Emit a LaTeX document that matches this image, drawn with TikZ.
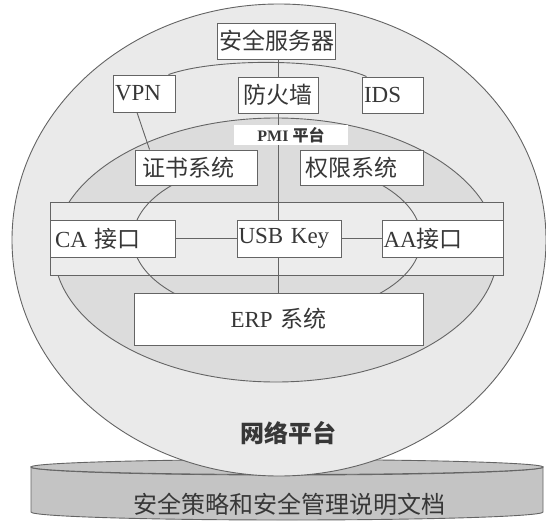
\documentclass[tikz,border=0pt]{standalone}
\usepackage{fontspec}
\setmainfont{Liberation Serif}
\newfontfamily\cjk{Noto Sans CJK SC}
\definecolor{linec}{RGB}{100,100,100}
\definecolor{txtc}{RGB}{55,55,55}
\definecolor{outerfill}{RGB}{234,234,234}
\definecolor{midfill}{RGB}{220,220,220}
\definecolor{bigfill}{RGB}{236,236,236}
\definecolor{diskfill}{RGB}{196,196,196}
\pgfdeclarelayer{back}
\pgfdeclarelayer{links}
\pgfsetlayers{back,links,main}
\tikzset{
  lc/.style={draw=linec, line width=0.9pt},
  bx/.style={lc, fill=white, inner ysep=0pt, text=txtc, font=\fontsize{23}{25}\selectfont},
}
\begin{document}
\begin{tikzpicture}[x=1pt,y=-1pt]
\useasboundingbox (0,0) rectangle (546,522);
\begin{pgfonlayer}{back}
% base disk
\path[lc, fill=diskfill] (31,467) -- (31,512) arc[start angle=180, end angle=0, x radius=256, y radius=8] -- (543,467) arc[start angle=0, end angle=180, x radius=256, y radius=8] -- cycle;
\draw[lc, fill=diskfill] (287,467) ellipse [x radius=256, y radius=7.5];
% outer ellipse
\draw[lc, fill=outerfill] (279,240) ellipse [x radius=267, y radius=236];
% middle ellipse (PMI)
\draw[lc, fill=midfill] (276,250) ellipse [x radius=222, y radius=132];
% big box
\node[lc, fill=bigfill, minimum width=453, minimum height=73, inner sep=0pt] (big) at (276.5,238.5) {};
\end{pgfonlayer}
\node[text=txtc, font=\fontsize{24}{26}\selectfont\cjk] (doc) at (289,504) {安全策略和安全管理说明文档};
% boxes
\node[bx, text width=114, inner xsep=2pt, align=center, minimum height=36] (srv) at (276,41) {\cjk 安全服务器};
\node[bx, text width=58, inner xsep=2pt, align=left, minimum height=37] (vpn) at (144,93.5) {VPN};
\node[bx, text width=76, inner xsep=2pt, align=center, minimum height=36] (fw) at (278,95) {\cjk 防火墙};
\node[bx, text width=57, inner xsep=2pt, align=left, minimum height=36] (ids) at (392.5,95) {IDS};
\node[bx, text width=108, inner xsep=7pt, align=left, minimum height=35] (cert) at (196,167.5) {\cjk 证书系统};
\node[bx, text width=113, inner xsep=5pt, align=left, minimum height=35] (auth) at (361.5,167.5) {\cjk 权限系统};
\node[bx, text width=115, inner xsep=5pt, align=left, minimum height=37] (ca) at (112.5,238.5) {CA {\cjk 接口}};
\node[bx, text width=101, inner xsep=1.5pt, align=left, minimum height=37] (usb) at (289,238.5) {USB Key};
\node[bx, text width=118, inner xsep=1.5pt, align=left, minimum height=37] (aa) at (442.5,238.5) {AA{\cjk 接口}};
\node[bx, text width=285, inner xsep=2pt, align=center, minimum height=52] (erp) at (278.5,319) {ERP {\cjk 系统}};
% PMI label
\node[fill=white, minimum width=114, minimum height=20, inner sep=0pt, text=txtc, font=\fontsize{16}{17}\selectfont\bfseries] (pmi) at (291,135) {PMI {\cjk 平台}};
% network label
\node[text=txtc, font=\fontsize{24}{26}\selectfont\cjk\bfseries] (net) at (288,433) {网络平台};
% connectors (behind boxes)
\begin{pgfonlayer}{links}
\draw[lc] ([xshift=-7pt]vpn.north east) .. controls (215,58) and (325,58) .. ([xshift=5pt]ids.north west);
\draw[lc] (fw.north |- srv.south) -- (fw.north);
\draw[lc] (fw.south) -- (fw.south |- usb.north);
\draw[lc] (erp.north |- usb.south) -- (erp.north);
\draw[lc] (ca.east) -- (usb.west);
\draw[lc] (usb.east) -- (aa.west);
\draw[lc] ([xshift=-7pt]vpn.south) -- ([xshift=15pt]cert.north west);
\draw[lc] ([xshift=37pt]cert.south west) arc[start angle=223, end angle=135, x radius=144, y radius=78];
\draw[lc] ([xshift=83pt]auth.south west) arc[start angle=-43, end angle=45, x radius=144, y radius=78];
\end{pgfonlayer}
\end{tikzpicture}
\end{document}
